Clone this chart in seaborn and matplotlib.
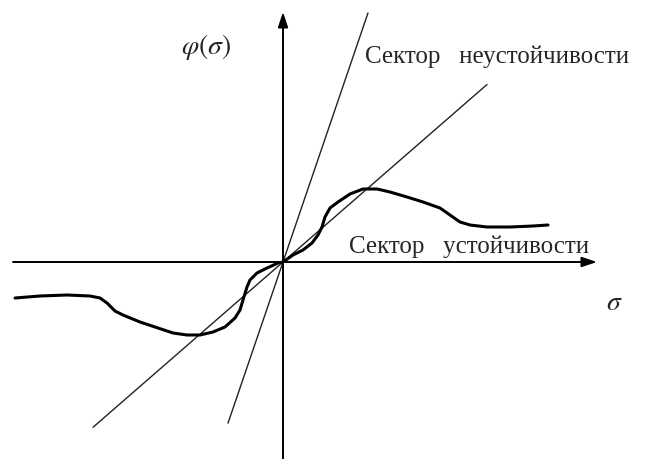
import numpy as np
import pandas as pd
import matplotlib
matplotlib.use("Agg")
import matplotlib.pyplot as plt
import seaborn as sns

# Nonlinear characteristic phi(sigma)
sigma = [-2.68, -2.43, -2.16, -1.93, -1.83, -1.76, -1.68, -1.60, -1.43, -1.28,
         -1.10, -0.96, -0.83, -0.70, -0.58, -0.48, -0.43, -0.40, -0.36, -0.33,
         -0.26, -0.16, -0.05, 0.00, 0.10, 0.20, 0.29, 0.35, 0.39, 0.42,
         0.47, 0.55, 0.67, 0.80, 0.94, 1.07, 1.24, 1.40, 1.57,
         1.67, 1.77, 1.87, 2.04, 2.27, 2.50, 2.65]
phi = [-0.36, -0.34, -0.33, -0.34, -0.36, -0.41, -0.49, -0.53, -0.60, -0.65,
       -0.71, -0.73, -0.73, -0.70, -0.65, -0.56, -0.48, -0.38, -0.25, -0.18,
       -0.11, -0.06, -0.01, 0.00, 0.07, 0.12, 0.19, 0.27, 0.35, 0.45,
       0.54, 0.60, 0.68, 0.73, 0.73, 0.70, 0.65, 0.60, 0.54,
       0.47, 0.40, 0.37, 0.35, 0.35, 0.36, 0.37]

# Sector boundary lines phi = k * sigma
sector_gain = [2.93, 0.87]
sector_span = [(-0.55, 0.85), (-1.90, 2.04)]

# Axis extents
x_axis = (-2.70, 3.14)
y_axis = (-1.97, 2.50)

label_phi = r"$\varphi(\sigma)$"
label_sigma = r"$\sigma$"
label_unstable = "Сектор   неустойчивости"
label_stable = "Сектор   устойчивости"

sns.set_style("white")
plt.rcParams["font.family"] = ["Liberation Serif", "DejaVu Serif"]
plt.rcParams["mathtext.fontset"] = "stix"

fig = plt.figure(figsize=(6.48, 4.59), dpi=100)
ax = fig.add_axes([0, 0, 1, 1])
ax.set_xlim(-2.83, 3.65)
ax.set_ylim(-1.97, 2.62)
ax.axis("off")

# Coordinate axes with arrowheads
arrow = dict(arrowstyle="-|>,head_length=0.9,head_width=0.3", color="black",
             lw=1.4, shrinkA=0, shrinkB=0)
ax.annotate("", xy=(x_axis[1], 0), xytext=(x_axis[0], 0), arrowprops=arrow)
ax.annotate("", xy=(0, y_axis[1]), xytext=(0, y_axis[0]), arrowprops=arrow)

# Sector lines
for k, (s0, s1) in zip(sector_gain, sector_span):
    xs = np.array([s0, s1])
    sns.lineplot(x=xs, y=k * xs, ax=ax, color="#222222", lw=1.0,
                 estimator=None, sort=False)

# Characteristic curve
df = pd.DataFrame({"sigma": sigma, "phi": phi})
sns.lineplot(data=df, x="sigma", y="phi", ax=ax, color="black", lw=2.2,
             estimator=None, sort=False, solid_capstyle="round",
             solid_joinstyle="round")

# Labels
ax.text(-1.02, 2.15, label_phi, fontsize=20, ha="left", va="center")
ax.text(3.31, -0.41, label_sigma, fontsize=20, ha="center", va="center")
ax.text(0.82, 2.05, label_unstable, fontsize=18, ha="left", va="center")
ax.text(0.66, 0.15, label_stable, fontsize=18, ha="left", va="center")

fig.savefig("out.png", dpi=100)
